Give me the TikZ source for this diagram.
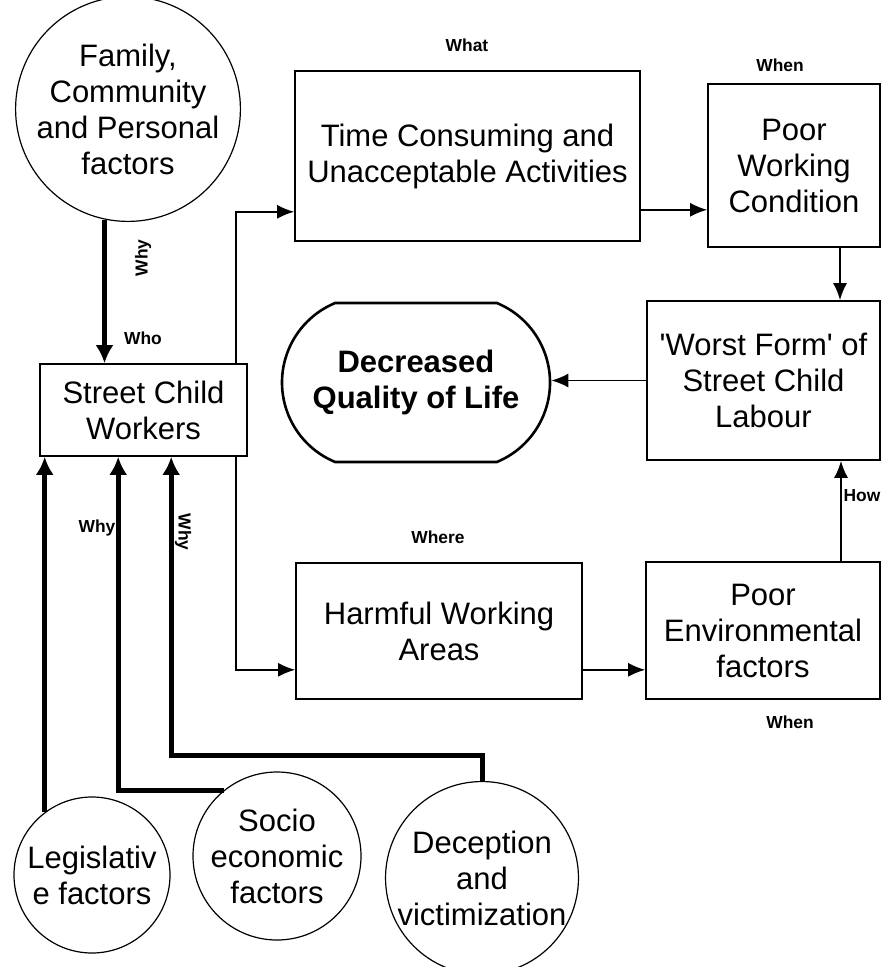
\documentclass[tikz,border=0pt]{standalone}
\usepackage{fontspec}
\setmainfont{Liberation Sans}[Ligatures=TeXOff]
\usetikzlibrary{arrows.meta,shapes.misc}

\begin{document}
\begin{tikzpicture}[x=0.5pt,y=-0.5pt,
    box/.style={draw, line width=0.8pt, align=center, inner sep=0pt,
      font=\fontsize{15.5}{18}\selectfont},
    factor/.style={box, circle, line width=0.6pt},
    tag/.style={font=\bfseries\fontsize{8.7}{10}\selectfont, inner sep=0pt},
    link/.style={line width=0.9pt, -{Latex[length=8.5pt,width=7pt]}},
    pull/.style={line width=2.5pt, -{Latex[length=9pt,width=9pt]}}]
    \useasboundingbox (0,0) rectangle (883,967);

    % who and why
    \node[factor, minimum size=101pt] (family) at (128,109) {Family,\\Community\\and Personal\\factors};
    \node[box, minimum width=103.5pt, minimum height=46pt] (workers) at (143.5,410) {Street Child\\Workers};

    % what, where, when, how
    \node[box, minimum width=172.5pt, minimum height=85pt] (activities) at (467.5,156) {Time Consuming and\\Unacceptable Activities};
    \node[box, minimum width=86pt, minimum height=81.5pt] (condition) at (794,165.5) {Poor\\Working\\Condition};
    \node[box, minimum width=116.5pt, minimum height=79.5pt] (worst) at (763.5,380.5) {'Worst Form' of\\Street Child\\Labour};
    \node[box, minimum width=143pt, minimum height=68pt] (areas) at (439,631) {Harmful Working\\Areas};
    \node[box, minimum width=117pt, minimum height=68.5pt] (environment) at (763,630.5) {Poor\\Environmental\\factors};
    \node[box, rounded rectangle, rounded rectangle arc length=135, line width=1.3pt,
      minimum width=134pt, minimum height=79.5pt,
      font=\bfseries\fontsize{15.5}{18}\selectfont] (quality) at (416,382.5) {Decreased\\Quality of Life};

    % other factors
    \node[factor, minimum size=78pt] (legislative) at (92,875) {Legislativ\\e factors};
    \node[factor, minimum size=84pt] (socio) at (277,856) {Socio\\economic\\factors};
    \node[factor, minimum size=95pt] (deception) at (482,878) {Deception\\and\\victimization};

    % question words
    \node[tag] (what) at (467,45) {What};
    \node[tag] (when1) at (780,65) {When};
    \node[tag, rotate=90] (why1) at (143,258) {Why};
    \node[tag] (who) at (143,338) {Who};
    \node[tag] (how) at (862,496) {How};
    \node[tag] (where) at (438,537) {Where};
    \node[tag] (when2) at (790,722) {When};
    \node[tag] (why2) at (97,528) {Why};
    \node[tag, rotate=-90] (why3) at (183,532) {Why};

    % connectors
    \draw[pull] (family.258) -- (family.258 |- workers.north);
    \draw[link] ([xshift=-6pt]workers.north east) |- ([yshift=15pt]activities.south west);
    \draw[link] ([yshift=16pt]activities.south east) -- ([yshift=16pt]activities.south east -| condition.west);
    \draw[link] ([xshift=23pt]condition.south) -- ([xshift=23pt]condition.south |- worst.north);
    \draw[link] (worst.west) -- (worst.west -| quality.east);
    \draw[link] ([xshift=-6pt]workers.south east) |- ([yshift=15pt]areas.south west);
    \draw[link] ([yshift=15pt]areas.south east) -- ([yshift=15pt]areas.south east -| environment.west);
    \draw[link] ([xshift=39pt]environment.north) -- ([xshift=39pt]environment.north |- worst.south);
    \draw[pull] (legislative.127) -- (legislative.127 |- workers.south);
    \draw[pull] (socio.129) -| ([xshift=39.5pt]workers.south west);
    \draw[pull] (deception.north) -- ++(0,-25) -| ([xshift=66pt]workers.south west);
\end{tikzpicture}
\end{document}
